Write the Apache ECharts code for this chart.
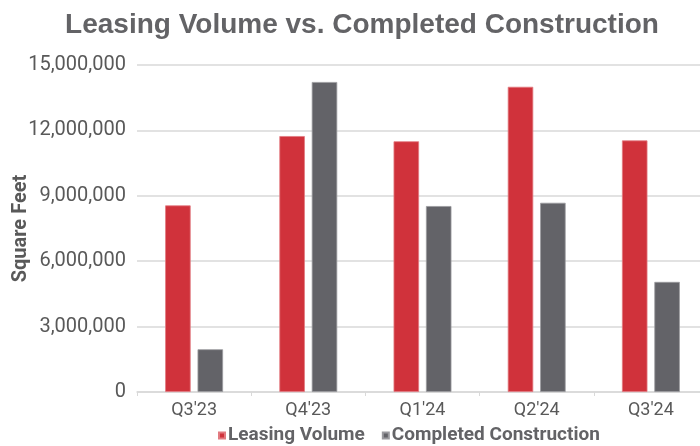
<!DOCTYPE html>
<html>
<head>
<meta charset="utf-8">
<script src="https://cdn.jsdelivr.net/npm/echarts@6/dist/echarts.min.js"></script>
<style>
  html, body { margin: 0; padding: 0; background: #fff; }
  #chart { width: 700px; height: 446px; }
</style>
</head>
<body>
<div id="chart"></div>
<script>
// quarters on the x axis
const quarters = ["Q3'23", "Q4'23", "Q1'24", "Q2'24", "Q3'24"];
// square feet
const leasingVolume = [8560000, 11740000, 11500000, 14000000, 11540000];
const completedConstruction = [1960000, 14220000, 8530000, 8680000, 5050000];
const yTicks = [0, 3000000, 6000000, 9000000, 12000000, 15000000];

const labelFont = 'Roboto, "Liberation Sans", sans-serif';

function setChart() {
    const chart = echarts.init(document.getElementById('chart'));

    chart.setOption({
        animation: false,
        title: {
            text: 'Leasing Volume vs. Completed Construction',
            left: 357,
            top: 6,
            textAlign: 'center',
            textStyle: {
                fontFamily: '"Liberation Sans", Arial, sans-serif',
                fontSize: 28,
                fontWeight: 'bold',
                color: '#636366'
            }
        },
        legend: {
            data: ['Leasing Volume', 'Completed Construction'],
            left: 213,
            top: 421,
            icon: 'rect',
            itemWidth: 6,
            itemHeight: 6,
            itemGap: 17,
            textStyle: {
                fontFamily: labelFont,
                fontSize: 19,
                fontWeight: 'bold',
                color: '#636366',
                padding: [0, 0, 0, -2]
            }
        },
        grid: {
            left: 137,
            top: 65,
            width: 571,
            bottom: 54,
            outerBoundsMode: 'none'
        },
        xAxis: {
            type: 'category',
            data: quarters,
            axisLine: { lineStyle: { color: '#d9d9d9', width: 1.5 } },
            axisTick: { show: true, length: 4, lineStyle: { color: '#d9d9d9' } },
            axisLabel: {
                margin: 9,
                fontFamily: labelFont,
                fontSize: 18,
                color: '#595959'
            }
        },
        yAxis: {
            type: 'value',
            min: 0,
            max: yTicks[yTicks.length - 1],
            interval: yTicks[1] - yTicks[0],
            name: 'Square Feet',
            nameLocation: 'middle',
            nameGap: 106,
            nameMoveOverlap: false,
            nameTextStyle: {
                fontFamily: labelFont,
                fontSize: 20,
                fontWeight: 'bold',
                color: '#595959'
            },
            axisLine: { show: false },
            axisTick: { show: false },
            splitLine: { lineStyle: { color: '#d9d9d9', width: 1.5 } },
            axisLabel: {
                margin: 11,
                fontFamily: labelFont,
                fontSize: 20,
                color: '#595959',
                formatter: v => v.toLocaleString('en-US')
            }
        },
        series: [
            {
                name: 'Leasing Volume',
                type: 'bar',
                data: leasingVolume,
                barWidth: 25.5,
                barGap: '27%',
                itemStyle: { color: '#d0323b', borderColor: '#e27a80', borderWidth: 0.8 }
            },
            {
                name: 'Completed Construction',
                type: 'bar',
                data: completedConstruction,
                barWidth: 25.5,
                itemStyle: { color: '#636368', borderColor: '#9a9a9e', borderWidth: 0.8 }
            }
        ]
    });

    window.addEventListener('resize', () => {
        chart.resize();
    });
}

window.addEventListener('DOMContentLoaded', function () {
    setChart();
});
</script>
</body>
</html>
